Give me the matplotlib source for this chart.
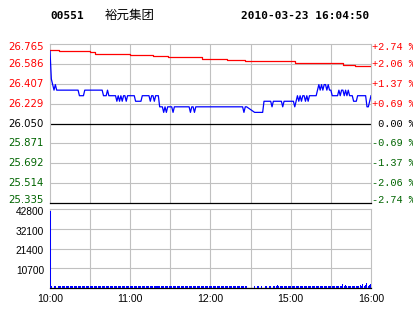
# -*- coding: utf-8 -*-
"""Intraday minute chart for 00551 (price + average line, volume bars)."""
import matplotlib
matplotlib.use("Agg")
import matplotlib.pyplot as plt
from matplotlib.transforms import offset_copy, blended_transform_factory

CODE = "00551"
NAME = "裕元集团"
STAMP = "2010-03-23 16:04:50"

PRICE_TICKS = [26.765, 26.586, 26.407, 26.229, 26.050, 25.871, 25.692, 25.514, 25.335]
PCT_TICKS = ["+2.74 %", "+2.06 %", "+1.37 %", "+0.69 %", " 0.00 %",
             "-0.69 %", "-1.37 %", "-2.06 %", "-2.74 %"]
PREV_CLOSE = 26.050
VOL_TICKS = [42800, 32100, 21400, 10700]
TIME_POS = [0, 60, 120, 180, 240]
TIME_LABELS = ["10:00", "11:00", "12:00", "15:00", "16:00"]

# price (blue): minute index -> last price
price_min = [0, 1, 2, 3, 4, 5, 21, 22, 25, 26, 39, 40, 42, 43, 44, 49, 50, 51, 52, 53,
             54, 55, 56, 57, 58, 63, 64, 68, 69, 74, 75, 76, 77, 78, 79, 81, 82, 84, 85, 86,
             87, 88, 91, 92, 93, 104, 105, 106, 107, 108, 109, 144, 145, 146, 147, 153, 159,
             160, 165, 166, 167, 173, 174, 175, 182, 183, 184, 185, 186, 187, 188, 189, 190,
             191, 192, 193, 194, 199, 200, 201, 202, 203, 204, 205, 206, 207, 208, 209, 210,
             211, 215, 216, 217, 218, 219, 220, 221, 222, 223, 224, 226, 227, 229, 230, 236,
             237, 238, 239, 240]
price_val = [26.70, 26.45, 26.40, 26.35, 26.40, 26.35, 26.35, 26.30, 26.30, 26.35, 26.35,
             26.30, 26.30, 26.35, 26.30, 26.30, 26.25, 26.30, 26.25, 26.30,
             26.25, 26.30, 26.30, 26.25, 26.30, 26.30, 26.25, 26.25, 26.30, 26.30, 26.25,
             26.30, 26.30, 26.25, 26.30, 26.30, 26.20, 26.20, 26.15, 26.20,
             26.15, 26.20, 26.20, 26.15, 26.20, 26.20, 26.15, 26.20, 26.20, 26.15, 26.20,
             26.20, 26.15, 26.20, 26.20, 26.15, 26.15,
             26.25, 26.25, 26.20, 26.25, 26.25, 26.20, 26.25, 26.25, 26.20, 26.25, 26.30,
             26.25, 26.30, 26.25, 26.30, 26.30,
             26.25, 26.30, 26.25, 26.30, 26.30, 26.35, 26.40, 26.35, 26.40, 26.35, 26.40,
             26.40, 26.35, 26.40, 26.35, 26.35,
             26.30, 26.30, 26.35, 26.30, 26.35, 26.35, 26.30, 26.35, 26.30, 26.35, 26.30,
             26.30, 26.25, 26.25, 26.30, 26.30,
             26.20, 26.20, 26.25, 26.30]

# average price (red)
avg_min = [0, 7, 30, 34, 60, 77, 88, 114, 132, 146, 183, 197, 219, 228, 240]
avg_val = [26.71, 26.70, 26.69, 26.675, 26.665, 26.655, 26.645, 26.632, 26.625, 26.611,
           26.598, 26.59, 26.578, 26.563, 26.563]

# volume per minute, 10:00 .. 16:00
volume = [
    41800, 1100, 0, 1100, 1100, 0, 1100, 1100, 1100, 1100,
    1100, 1100, 1100, 1100, 1100, 1100, 1100, 1100, 1100, 1100,
    1100, 1100, 1100, 1100, 1100, 1100, 1100, 1100, 1100, 1100,
    1100, 1100, 1100, 1100, 1100, 1100, 1100, 1100, 1100, 1100,
    1100, 1100, 1100, 1100, 1100, 1100, 1100, 1100, 1100, 1100,
    1100, 1100, 1100, 1100, 1100, 1100, 1100, 1100, 1100, 1100,
    1100, 1100, 1100, 1100, 1100, 1100, 1100, 1100, 1100, 1100,
    1100, 1100, 1100, 1100, 1100, 1100, 1100, 1100, 1100, 1100,
    1100, 1100, 1100, 1100, 1100, 1100, 1100, 1100, 1100, 1100,
    1100, 1100, 1100, 1100, 1100, 1100, 1100, 1100, 1100, 1100,
    1100, 1100, 1100, 1100, 1100, 1100, 1100, 1100, 1100, 1100,
    1100, 1100, 1100, 1100, 1100, 1100, 1100, 1100, 1100, 1100,
    1100, 1100, 1100, 1100, 1100, 1100, 1100, 1100, 1100, 1100,
    1100, 1100, 1100, 1100, 1100, 1100, 1100, 1100, 1100, 1100,
    1100, 1100, 1100, 1100, 1100, 1100, 1100, 1100, 0, 0,
    0, 0, 0, 1100, 0, 1100, 1100, 0, 1100, 0,
    0, 1100, 1100, 0, 1100, 1100, 0, 1100, 1100, 1100,
    1600, 1100, 1100, 1100, 1100, 1100, 1100, 1100, 1100, 1100,
    1100, 1100, 1100, 1100, 1100, 1100, 1100, 1100, 1100, 1100,
    1100, 1100, 1100, 1100, 1100, 1100, 1100, 1100, 1100, 1100,
    1100, 1100, 1100, 1100, 1100, 1100, 1100, 1100, 1100, 1100,
    1100, 1100, 1100, 1100, 1100, 1100, 1100, 1100, 1100, 2200,
    1100, 1600, 1100, 1100, 1100, 1100, 1100, 1100, 1100, 1100,
    1100, 1100, 1600, 1100, 2200, 1100, 1600, 2700, 1100, 1600,
    2200,
]

W, H = 414, 314
GRID = "#C0C0C0"
RED = "#FF0000"
GREEN = "#006400"
BLUE = "#0000FF"


def box(x0, y0, x1, y1):
    return [x0 / W, 1 - y1 / H, (x1 - x0) / W, (y1 - y0) / H]


fig = plt.figure(figsize=(W / 100, H / 100), dpi=100)
ax = fig.add_axes(box(50, 44, 371, 203))
axv = fig.add_axes(box(50, 209, 371, 288))

for a in (ax, axv):
    a.set_xlim(0, 240)
    a.set_xticks([])
    a.set_yticks([])
    for s in ("top", "left", "right"):
        a.spines[s].set_color(GRID)
        a.spines[s].set_linewidth(0.8)
    a.spines["bottom"].set_color("black")
    a.spines["bottom"].set_linewidth(0.9)
    for m in range(30, 240, 30):
        a.axvline(m, color=GRID, lw=0.8, zorder=0)

# ---------- price panel ----------
ax.set_ylim(PRICE_TICKS[-1], PRICE_TICKS[0])
for p in PRICE_TICKS[1:-1]:
    ax.axhline(p, color="black" if p == PREV_CLOSE else GRID,
               lw=0.9 if p == PREV_CLOSE else 0.8, zorder=1)
ax.plot(avg_min, avg_val, color=RED, lw=0.9, drawstyle="steps-post", zorder=3)
ax.plot(price_min, price_val, color=BLUE, lw=0.9, zorder=4)

lt = blended_transform_factory(ax.transAxes, ax.transData)
n = len(PRICE_TICKS)
for i, (p, pct) in enumerate(zip(PRICE_TICKS, PCT_TICKS)):
    dy = -3 if i == 0 else (3 if i == n - 1 else 0)
    col = RED if p > PREV_CLOSE else ("black" if p == PREV_CLOSE else GREEN)
    ax.text(0, p, f"{p:.3f}", color=col, fontsize=7.3, family="DejaVu Sans",
            ha="right", va="center",
            transform=offset_copy(lt, fig=fig, x=-6, y=dy, units="dots"))
    ax.text(1, p, pct, color=col, fontsize=7.4, family="Liberation Mono",
            ha="left", va="center",
            transform=offset_copy(lt, fig=fig, x=1, y=dy, units="dots"))

# ---------- volume panel ----------
axv.set_ylim(0, VOL_TICKS[0])
for v in VOL_TICKS[1:]:
    axv.axhline(v, color=GRID, lw=0.8, zorder=0)
axv.bar(range(len(volume)), volume, width=0.75, color=BLUE, linewidth=0,
        antialiased=False, zorder=3)
vt = blended_transform_factory(axv.transAxes, axv.transData)
for v in VOL_TICKS:
    axv.text(0, v, str(v), color="black", fontsize=7.3, family="Liberation Sans",
             ha="right", va="center",
             transform=offset_copy(vt, fig=fig, x=-6, y=-3, units="dots"))
xt = blended_transform_factory(axv.transData, axv.transAxes)
for m, lab in zip(TIME_POS, TIME_LABELS):
    axv.text(m, 0, lab, color="black", fontsize=7.6, family="Liberation Sans",
             ha="center", va="center",
             transform=offset_copy(xt, fig=fig, x=0, y=-11, units="dots"))

# ---------- header ----------
fig.text(50 / W, 1 - 16 / H, CODE, fontsize=8, family="DejaVu Sans Mono",
         fontweight="bold", ha="left", va="center")
fig.text(105 / W, 1 - 15 / H, NAME, fontsize=9, family=["Noto Sans CJK SC", "DejaVu Sans"],
         ha="left", va="center")
fig.text(369 / W, 1 - 16 / H, STAMP, fontsize=8, family="DejaVu Sans Mono",
         fontweight="bold", ha="right", va="center")

fig.savefig("out.png", dpi=100)
